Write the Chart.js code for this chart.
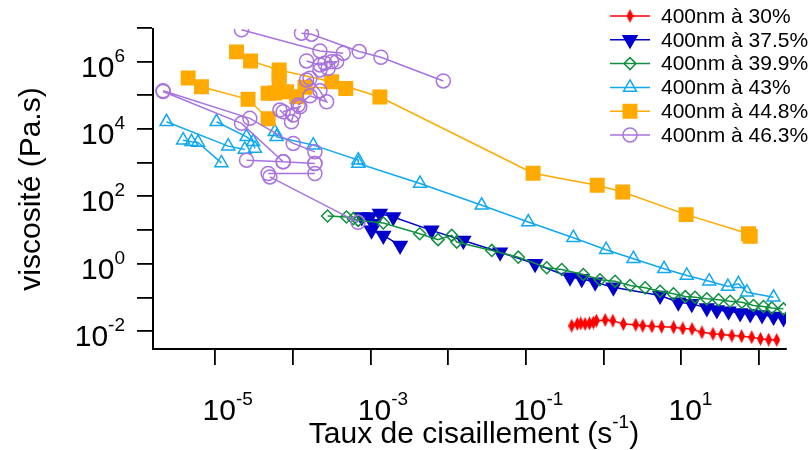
<!DOCTYPE html>
<html>
<head>
<meta charset="utf-8">
<script src="https://cdn.jsdelivr.net/npm/chart.js@4"></script>
<style>
  html, body { margin: 0; padding: 0; background: #fff; }
  canvas { display: block; }
</style>
</head>
<body>
<canvas id="c" width="812" height="450"></canvas>
<script>
// series values (shear rate in s^-1, viscosity in Pa.s); null splits separate runs
const x30 = [0.39, 0.46, 0.51, 0.58, 0.66, 0.74, 0.81, 1.05, 1.32, 1.8, 2.6, 3.2, 4.2, 5.6, 8.0, 10.5, 13.8, 18.5, 25.7, 33, 45, 60, 81, 105, 134, 170];
const y30 = [0.0145, 0.0163, 0.017, 0.0163, 0.017, 0.018, 0.0205, 0.0215, 0.0205, 0.0163, 0.0156, 0.0145, 0.0139, 0.0136, 0.013, 0.012, 0.0116, 0.0092, 0.0083, 0.0079, 0.0074, 0.0071, 0.0066, 0.0059, 0.0056, 0.0055];

const x375 = [7.7e-4, 1.08e-3, 1.03e-3, 1.46e-3, 2.4e-3, null, 9.8e-4, 1.32e-3, 1.96e-3, 6.1e-3, 0.0157, 0.0466, 0.1315, 0.37, 0.525, 0.78, 1.34, 5.36, 9.2, 13.7, 21.4, 28.8, 40.7, 57.5, 77.5, 110, 155, 208];
const y375 = [24.4, 15.5, 9.8, 6.95, 3.5, null, 24.4, 30.8, 24.4, 9.8, 4.9, 2.2, 1.0, 0.40, 0.358, 0.283, 0.201, 0.114, 0.072, 0.0645, 0.049, 0.0427, 0.039, 0.0348, 0.0325, 0.0303, 0.027, 0.0247];

const x399 = [2.8e-4, 4.9e-4, 6.0e-4, 6.95e-4, 1.46e-3, 4.3e-3, 7.4e-3, 0.0111, 0.0129, 0.0364, 0.080, 0.186, 0.29, 0.55, 0.90, 1.41, 2.2, 3.44, 5.36, 7.96, 11.3, 15.1, 21.4, 30.3, 42.8, 60.5, 85.5, 115, 147, 208];
const y399 = [26.1, 24.4, 21.8, 19.4, 16.2, 7.8, 5.2, 6.95, 4.4, 2.49, 1.57, 0.76, 0.676, 0.48, 0.334, 0.303, 0.226, 0.193, 0.153, 0.128, 0.106, 0.101, 0.091, 0.085, 0.077, 0.072, 0.0574, 0.0536, 0.049, 0.0458];

const x43 = [2.36e-6, 1.47e-5, 2.4e-5, null, 3.86e-6, 4.95e-6, 6.0e-6, 1.2e-5, null, 1.04e-5, 2.53e-5, 3.08e-5, 3.24e-5, null, 5.86e-5, 6.17e-5, 1.83e-4, 6.95e-4, 6.95e-4, 4.34e-3, 0.027, 0.1076, 0.409, 1.08, 2.43, 6.04, 11.8, 23, 40, 54.7, 70.3, 155];
const y43 = [16400, 3100, 2470, null, 4670, 4160, 3990, 986, null, 16400, 5860, 4160, 2650, null, 8260, 5860, 3320, 1190, 947, 240, 54.3, 17.3, 5.94, 2.61, 1.41, 0.71, 0.449, 0.303, 0.211, 0.254, 0.143, 0.101];

const x448 = [4.48e-6, 6.65e-6, 2.65e-5, 4.8e-5, null, 1.88e-5, 2.85e-5, 6.65e-5, 3.16e-4, 1.32e-3, 0.124, 0.83, 1.77, 11.6, 73.6, 77.5, null, 6.65e-5, 6.65e-5, 4.8e-5, 5.86e-5, 8.3e-5, 1.12e-4, 1.43e-4, 4.8e-4];
const y448 = [327000, 180000, 76000, 20100, null, 1.95e6, 1.05e6, 566000, 254000, 89000, 487, 214, 135, 28.7, 7.8, 6.5, null, 402000, 232000, 115000, 117000, 128000, 90800, 173000, 159000];

const x463 = [2.18e-5, 2.23e-4, 4.45e-4, null,
  1.29e-4, 1.74e-4, 7.14e-4, 1.36e-3, 8.65e-3, null,
  2.13e-6, 2.79e-5, 1.01e-4, 1.92e-4, null,
  2.13e-6, 2.18e-5, 7.5e-5, 1.92e-4, null,
  1.5e-4, 2.23e-4, 2.58e-4, 3.16e-4, 3.66e-4, 2.85e-4, 2.23e-4, null,
  1.5e-4, 1.66e-4, 2.23e-4, 2.72e-4, 1.66e-4, 1.17e-4, null,
  6.8e-5, 9.6e-5, 1.01e-4, 1.23e-4, 7.5e-5, null,
  2.53e-5, 7.5e-5, 1.92e-4, null,
  4.8e-5, 1.92e-4, null,
  5.06e-5, 6.9e-4];
const y463 = [8.78e6, 2.08e6, 1.78e6, null,
  7.0e6, 6.53e6, 1.99e6, 1.35e6, 267000, null,
  137000, 20700, 3730, 2100, null,
  130000, 14700, 1060, 947, null,
  1.05e6, 798000, 895000, 1.0e6, 1.0e6, 637000, 566000, null,
  285000, 320000, 136000, 64500, 96600, 51400, null,
  36500, 16400, 25900, 45800, 32500, null,
  1190, 1060, 947, null,
  477, 477, null,
  378, 17];

const seriesNames = ['400nm à 30%', '400nm à 37.5%', '400nm à 39.9%', '400nm à 43%', '400nm à 44.8%', '400nm à 46.3%'];

// axis decades (exponents) for tick marks and labels
const xDecades = [-5, -4, -3, -2, -1, 0, 1, 2];
const xLabelExp = [-5, -3, -1, 1];
const yDecades = [-2, -1, 0, 1, 2, 3, 4, 5, 6, 7];
const yLabelExp = [-2, 0, 2, 4, 6];

const FONT = '"Liberation Sans", Arial, Helvetica, sans-serif';

function pts(xs, ys) {
  return xs.map((v, i) => v === null ? {x: xs[i - 1], y: null} : {x: v, y: ys[i]});
}

// narrow red diamond marker
const redDiamond = document.createElement('canvas');
redDiamond.width = 7;
redDiamond.height = 14;
(function () {
  const c = redDiamond.getContext('2d');
  c.fillStyle = '#ff0000';
  c.beginPath();
  c.moveTo(3.5, 0);
  c.lineTo(7, 7);
  c.lineTo(3.5, 14);
  c.lineTo(0, 7);
  c.closePath();
  c.fill();
})();

const styles = [
  {color: '#ff0000', pointStyle: redDiamond, radius: 5, fill: '#ff0000', rotation: 0},
  {color: '#0000cc', pointStyle: 'triangle', radius: 8, fill: '#0000cc', rotation: 180},
  {color: '#109040', pointStyle: 'rectRot', radius: 6, fill: 'rgba(0,0,0,0)', rotation: 0},
  {color: '#10a8f0', pointStyle: 'triangle', radius: 7.5, fill: 'rgba(0,0,0,0)', rotation: 0},
  {color: '#ffaa00', pointStyle: 'rect', radius: 9.5, fill: '#ffaa00', rotation: 0},
  {color: '#a872e0', pointStyle: 'circle', radius: 7, fill: 'rgba(0,0,0,0)', rotation: 0}
];

const seriesData = [pts(x30, y30), pts(x375, y375), pts(x399, y399), pts(x43, y43), pts(x448, y448), pts(x463, y463)];

const datasets = seriesData.map((d, i) => ({
  label: seriesNames[i],
  data: d,
  showLine: true,
  spanGaps: false,
  borderColor: styles[i].color,
  borderWidth: 1.5,
  pointStyle: styles[i].pointStyle,
  pointRadius: styles[i].radius,
  pointRotation: styles[i].rotation,
  pointBackgroundColor: styles[i].fill,
  pointBorderColor: styles[i].color,
  pointBorderWidth: 1.5,
  order: 6 - i
}));

// "10" with a raised exponent; anchor is the centre of "10" or the right edge
function drawPow(ctx, exp, px, baseline, align, size, supSize) {
  ctx.font = size + 'px ' + FONT;
  const wb = ctx.measureText('10').width;
  ctx.font = supSize + 'px ' + FONT;
  const sup = String(exp);
  const ws = ctx.measureText(sup).width;
  const x0 = align === 'right' ? px - wb - ws : px - wb / 2;
  ctx.textAlign = 'left';
  ctx.textBaseline = 'alphabetic';
  ctx.font = size + 'px ' + FONT;
  ctx.fillText('10', x0, baseline);
  ctx.font = supSize + 'px ' + FONT;
  ctx.fillText(sup, x0 + wb, baseline - size * 0.5);
}

const textPlugin = {
  id: 'textPlugin',
  afterDraw(chart) {
    const {ctx, scales: {x, y}, chartArea} = chart;
    ctx.save();
    ctx.fillStyle = '#000';

    yLabelExp.forEach(e => {
      const py = y.getPixelForValue(Math.pow(10, e));
      drawPow(ctx, e, 125, py + 15, 'right', 30, 19);
    });
    xLabelExp.forEach(e => {
      const px = x.getPixelForValue(Math.pow(10, e));
      drawPow(ctx, e, px + 4, 420, 'center', 30, 19);
    });

    // x title with superscript
    ctx.textBaseline = 'alphabetic';
    ctx.textAlign = 'left';
    const t1 = 'Taux de cisaillement (s', t2 = '-1', t3 = ')';
    ctx.font = '30px ' + FONT;
    const w1 = ctx.measureText(t1).width, w3 = ctx.measureText(t3).width;
    ctx.font = '19px ' + FONT;
    const w2 = ctx.measureText(t2).width;
    let sx = 474 - (w1 + w2 + w3) / 2;
    ctx.font = '30px ' + FONT;
    ctx.fillText(t1, sx, 443);
    ctx.font = '19px ' + FONT;
    ctx.fillText(t2, sx + w1, 428);
    ctx.font = '30px ' + FONT;
    ctx.fillText(t3, sx + w1 + w2, 443);

    // y title, centred on the axis
    ctx.save();
    ctx.translate(40, (chartArea.top + chartArea.bottom) / 2);
    ctx.rotate(-Math.PI / 2);
    ctx.font = '30px ' + FONT;
    ctx.textAlign = 'center';
    ctx.fillText('viscosité (Pa.s)', 0, 0);
    ctx.restore();

    // legend
    const rowY0 = 16, rowStep = 23.8;
    seriesNames.forEach((name, i) => {
      const ry = rowY0 + i * rowStep;
      const s = styles[i];
      ctx.strokeStyle = s.color;
      ctx.lineWidth = 1.5;
      ctx.beginPath();
      ctx.moveTo(610, ry);
      ctx.lineTo(650, ry);
      ctx.stroke();
      ctx.fillStyle = s.fill;
      Chart.helpers.drawPoint(ctx, {pointStyle: s.pointStyle, rotation: s.rotation, radius: s.radius, borderWidth: 1.5}, 630, ry);
      ctx.fillStyle = '#000';
      ctx.font = '21px ' + FONT;
      ctx.textAlign = 'left';
      ctx.textBaseline = 'middle';
      ctx.fillText(name, 661, ry + 1);
    });
    ctx.restore();
  }
};

function axisOpts(decades, min, max) {
  return {
    type: 'logarithmic',
    min: min,
    max: max,
    afterBuildTicks: s => { s.ticks = decades.map(e => ({value: Math.pow(10, e)})); },
    ticks: {display: false},
    grid: {drawOnChartArea: false, drawTicks: true, tickLength: 16, color: '#000', lineWidth: 1.8},
    border: {display: true, color: '#000', width: 2}
  };
}

const xOpts = axisOpts(xDecades, 1.58e-6, 224);
xOpts.afterFit = s => { s.height = 101; };
const yOpts = axisOpts(yDecades, 2.95e-3, 9.3e6);
yOpts.afterFit = s => { s.width = 153; };

new Chart(document.getElementById('c'), {
  type: 'scatter',
  data: {datasets: datasets},
  options: {
    responsive: false,
    animation: false,
    layout: {padding: {top: 29, right: 26, left: 0, bottom: 0}},
    plugins: {legend: {display: false}, tooltip: {enabled: false}},
    scales: {x: xOpts, y: yOpts}
  },
  plugins: [textPlugin]
});
</script>
</body>
</html>
